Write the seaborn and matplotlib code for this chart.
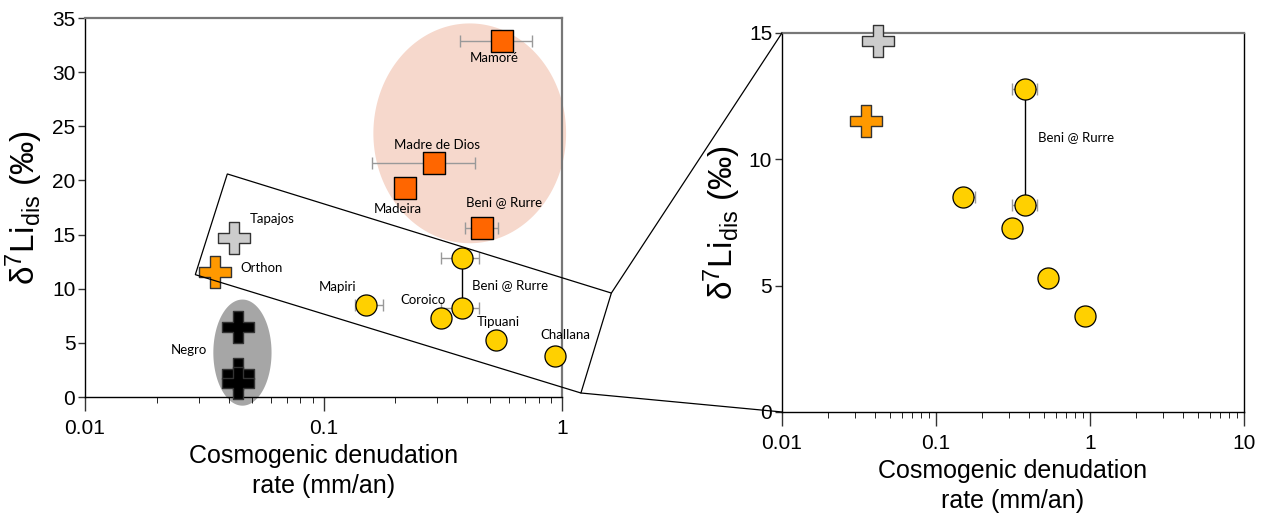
import numpy as np
import pandas as pd
import seaborn as sns
import matplotlib.pyplot as plt
from matplotlib.patches import Polygon, ConnectionPatch

# --- data ---
# squares: big lowland rivers
sq_names = ['Mamoré', 'Madre de Dios', 'Madeira', 'Beni @ Rurre']
sq_rate = [0.56, 0.29, 0.22, 0.46]
sq_d7li = [32.9, 21.6, 19.3, 15.6]
sq_err_lo = [0.375, 0.16, np.nan, 0.39]
sq_err_hi = [0.75, 0.43, np.nan, 0.54]

# circles: Andean tributaries
ci_names = ['Mapiri', 'Coroico', 'Beni @ Rurre', 'Beni @ Rurre', 'Tipuani', 'Challana']
ci_rate = [0.15, 0.31, 0.38, 0.38, 0.53, 0.93]
ci_d7li = [8.5, 7.3, 12.8, 8.2, 5.3, 3.8]
ci_err_lo = [0.135, np.nan, 0.31, 0.31, np.nan, np.nan]
ci_err_hi = [0.178, np.nan, 0.45, 0.45, np.nan, np.nan]

# crosses: shield rivers
cr_names = ['Tapajos', 'Orthon', 'Negro', 'Negro', 'Negro']
cr_rate = [0.042, 0.035, 0.044, 0.044, 0.044]
cr_d7li = [14.7, 11.5, 6.5, 2.1, 1.3]
cr_color = ['#cccccc', '#ff9900', 'black', 'black', 'black']

# label anchor positions (x, y in data units)
lab_left = [('Mamoré', 0.52, 31.3, 'center'), ('Madre de Dios', 0.30, 23.3, 'center'),
            ('Madeira', 0.205, 17.4, 'center'), ('Beni @ Rurre', 0.57, 18.0, 'center'),
            ('Tapajos', 0.049, 16.4, 'left'), ('Orthon', 0.045, 11.9, 'left'),
            ('Mapiri', 0.115, 10.2, 'center'), ('Coroico', 0.26, 9.0, 'center'),
            ('Beni @ Rurre', 0.42, 10.3, 'left'), ('Tipuani', 0.54, 6.9, 'center'),
            ('Challana', 1.03, 5.7, 'center'), ('Negro', 0.0273, 4.3, 'center')]

# zoom box corners (rate, d7Li) and grouping ellipses (log10 centre, log10 radius, y centre, y radius)
box_rate = [0.0395, 1.61, 1.20, 0.029]
box_d7li = [20.6, 9.6, 0.37, 11.3]
pink_ell = (-0.387, 0.404, 24.35, 10.15)
grey_ell = (-1.34, 0.122, 4.1, 4.9)

sns.set_style('ticks')
plt.rcParams['font.family'] = ['Liberation Sans', 'DejaVu Sans']
plt.rcParams['mathtext.fontset'] = 'custom'
plt.rcParams['mathtext.rm'] = 'Liberation Sans'
plt.rcParams['mathtext.it'] = 'Liberation Sans'
plt.rcParams['text.color'] = 'black'
plt.rcParams['axes.labelcolor'] = 'black'
plt.rcParams['xtick.color'] = 'black'
plt.rcParams['ytick.color'] = 'black'

sq = pd.DataFrame({'rate': sq_rate, 'd7li': sq_d7li, 'lo': sq_err_lo, 'hi': sq_err_hi})
ci = pd.DataFrame({'rate': ci_rate, 'd7li': ci_d7li, 'lo': ci_err_lo, 'hi': ci_err_hi})
cr = pd.DataFrame({'rate': cr_rate, 'd7li': cr_d7li, 'color': cr_color})

fig = plt.figure(figsize=(12.69, 5.16), dpi=100)
ax1 = fig.add_axes([0.067, 0.2306, 0.3759, 0.7345])
ax2 = fig.add_axes([0.6162, 0.2016, 0.3641, 0.7345])


def ellipse(ax, e, color):
    t = np.linspace(0, 2 * np.pi, 200)
    ax.fill(10 ** (e[0] + e[1] * np.cos(t)), e[2] + e[3] * np.sin(t),
            color=color, lw=0, zorder=0, clip_on=False)


def errbars(ax, df):
    d = df.dropna(subset=['lo'])
    ax.errorbar(d['rate'], d['d7li'], xerr=[d['rate'] - d['lo'], d['hi'] - d['rate']],
                fmt='none', ecolor='#999999', elinewidth=1, capsize=4, capthick=1, zorder=2)


def draw(ax, with_squares):
    if with_squares:
        errbars(ax, sq)
    errbars(ax, ci)
    # connector between the two Beni @ Rurre samples
    ax.plot(ci['rate'][2:4], ci['d7li'][2:4], color='black', lw=1, zorder=2)
    if with_squares:
        sns.scatterplot(data=sq, x='rate', y='d7li', ax=ax, marker='s', s=230,
                        color='#ff6600', edgecolor='black', linewidth=1, zorder=3, clip_on=False)
    sns.scatterplot(data=ci, x='rate', y='d7li', ax=ax, marker='o', s=230,
                    color='#ffd000', edgecolor='black', linewidth=0.9, zorder=3, clip_on=False)
    rows = cr if with_squares else cr.iloc[:2]
    for _, r in rows.iterrows():
        sns.scatterplot(x=[r['rate']], y=[r['d7li']], ax=ax, marker='P', s=560,
                        color=r['color'], edgecolor='#333333', linewidth=1, zorder=3, clip_on=False)


def style(ax, ymax, yticks):
    ax.set_xscale('log')
    ax.set_xlim(0.01, 10 if ymax == 15 else 1)
    ax.set_ylim(0, ymax)
    ax.set_yticks(yticks)
    ax.set_xlabel('Cosmogenic denudation\nrate (mm/an)', fontsize=18, linespacing=1.35)
    ax.set_ylabel('δ$^{7}$Li$_{\\rm dis}$ (‰)', fontsize=24, labelpad=5)
    ax.tick_params(axis='both', labelsize=15, width=1, color='#333333')
    ax.tick_params(axis='x', which='major', length=10, pad=6)
    ax.tick_params(axis='x', which='minor', length=4)
    ax.tick_params(axis='y', length=5, pad=2)
    ax.xaxis.set_major_formatter(plt.FuncFormatter(lambda v, p: f'{v:g}'))
    for s in ax.spines.values():
        s.set_visible(True)
        s.set_linewidth(1)
        s.set_color('black')
    ax.spines['top'].set_color('#777777')
    ax.spines['top'].set_linewidth(1.6)


# left panel
ellipse(ax1, pink_ell, '#f6d8cc')
ellipse(ax1, grey_ell, '#a6a6a6')
draw(ax1, True)
ax1.add_patch(Polygon(np.column_stack([box_rate, box_d7li]), closed=True, fill=False,
                      edgecolor='black', lw=0.9, clip_on=False, zorder=4))
for txt, x, y, ha in lab_left:
    ax1.text(x, y, txt, ha=ha, va='center', fontsize=9.5, family='Lato', zorder=5)
style(ax1, 35, range(0, 36, 5))
ax1.spines['right'].set_color('#777777')
ax1.spines['right'].set_linewidth(1.6)

# right panel (zoom)
draw(ax2, False)
ax2.text(0.46, 10.9, 'Beni @ Rurre', ha='left', va='center', fontsize=9.5, family='Lato')
style(ax2, 15, range(0, 16, 5))
ax2.yaxis.labelpad = 4

# lines joining the zoom box to the right panel
for (bx, by), (tx, ty) in [((box_rate[1], box_d7li[1]), (0.01, 15)),
                           ((box_rate[2], box_d7li[2]), (0.01, 0))]:
    fig.add_artist(ConnectionPatch(xyA=(bx, by), coordsA=ax1.transData,
                                   xyB=(tx, ty), coordsB=ax2.transData,
                                   color='black', lw=0.9))

fig.savefig('out.png', dpi=100)
